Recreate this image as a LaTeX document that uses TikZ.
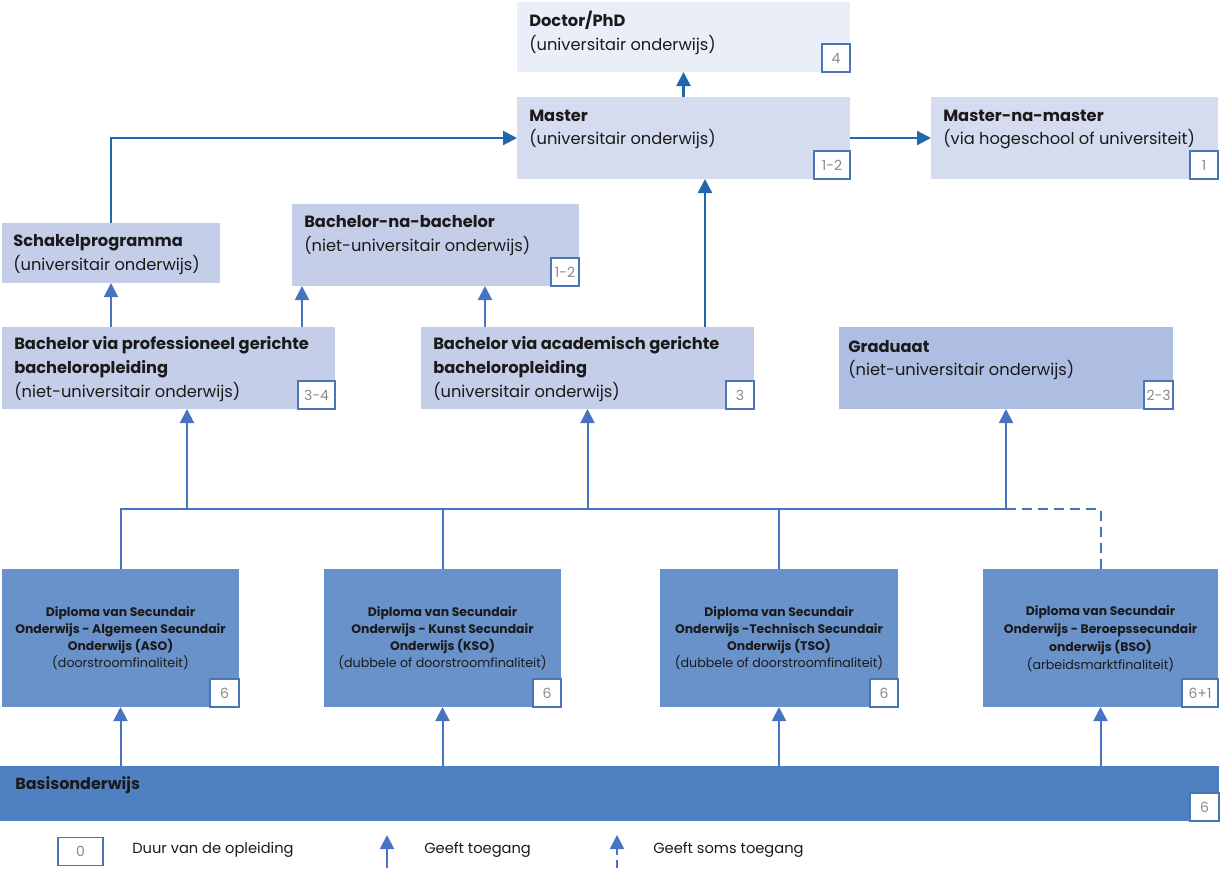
\documentclass[tikz,border=0pt]{standalone}
\usepackage{fontspec}
\setmainfont{Poppins}
\usetikzlibrary{arrows.meta}
\definecolor{cDoc}{HTML}{EAEEF8}
\definecolor{cMas}{HTML}{D6DCEF}
\definecolor{cBach}{HTML}{C4CEE9}
\definecolor{cGrad}{HTML}{AEBEE3}
\definecolor{cDipl}{HTML}{6991CA}
\definecolor{cBasis}{HTML}{4F80C1}
\definecolor{cBadgeB}{HTML}{4A75B6}
\definecolor{cBadgeT}{HTML}{8A8A8A}
\definecolor{cDark}{HTML}{1F68AD}
\definecolor{cLight}{HTML}{4674C2}
\definecolor{cTxt}{HTML}{1A1A1A}
\newcommand\pbox[6]{%
  \node[boxsty, fill=#6, minimum width={(#4-#2)*0.75pt}, minimum height={(#5-#3)*0.75pt}] (#1) at ({(#2+#4)/2},{(#3+#5)/2}) {};}
\newcommand\pbadge[4]{%
  \node[badgesty, minimum width={#4*0.75pt}] (#2) at (#1.south east) {#3};}
\begin{document}
\begin{tikzpicture}[x=0.75pt,y=-0.75pt,
  boxsty/.style={rectangle, inner sep=0pt, outer sep=0pt, draw=none},
  badgesty/.style={rectangle, draw=cBadgeB, line width=0.9pt, fill=white, inner sep=0pt, outer sep=0pt,
    minimum height=21pt, text=cBadgeT, font=\fontsize{10.5}{12}\selectfont, anchor=south east},
  ttl/.style={anchor=base west, inner sep=0pt, text=cTxt, font=\fontsize{12.2}{15}\selectfont\bfseries},
  sub/.style={anchor=base west, inner sep=0pt, text=cTxt, font=\fontsize{12.2}{15}\selectfont},
  dttl/.style={anchor=base, inner sep=0pt, text=cTxt, font=\fontsize{9.3}{11}\selectfont\bfseries},
  dsub/.style={anchor=base, inner sep=0pt, text=cTxt, font=\fontsize{9.5}{11}\selectfont},
  legtxt/.style={anchor=base west, inner sep=0pt, text=cTxt, font=\fontsize{11}{13}\selectfont},
  conn/.style={draw=cLight, line width=1.5pt},
  connD/.style={draw=cDark, line width=1.7pt},
  tip/.style={-{Triangle[length=10.5pt,width=10.5pt]}},
  dashsty/.style={dash pattern=on 7.5pt off 4.5pt}
]
\useasboundingbox (0,0) rectangle (1221,869);

% boxes
\pbox{doc}{517}{2}{850}{72}{cDoc}
\pbox{mas}{517}{97}{850}{179}{cMas}
\pbox{mnm}{931}{97}{1218}{179}{cMas}
\pbox{sch}{2}{223}{220}{283}{cBach}
\pbox{bnb}{292}{204}{579}{286}{cBach}
\pbox{prof}{2}{327}{335}{409}{cBach}
\pbox{acad}{421}{327}{754}{409}{cBach}
\pbox{grad}{839}{327}{1173}{409}{cGrad}
\pbox{aso}{2}{569}{239}{707}{cDipl}
\pbox{kso}{324}{569}{561}{707}{cDipl}
\pbox{tso}{660}{569}{898}{707}{cDipl}
\pbox{bso}{983}{569}{1218}{707}{cDipl}
\pbox{basis}{0}{766}{1219}{821}{cBasis}

% badges
\pbadge{doc}{docb}{4}{28}
\pbadge{mas}{masb}{1-2}{36}
\pbadge{mnm}{mnmb}{1}{28}
\pbadge{bnb}{bnbb}{1-2}{28}
\pbadge{prof}{profb}{3-4}{37}
\pbadge{acad}{acadb}{3}{28}
\pbadge{grad}{gradb}{2-3}{29}
\pbadge{aso}{asob}{6}{29}
\pbadge{kso}{ksob}{6}{28}
\pbadge{tso}{tsob}{6}{28}
\pbadge{bso}{bsob}{6+1}{36}
\pbadge{basis}{basisb}{6}{29}

% texts
\node[ttl] (doc-t) at (529,26) {Doctor/PhD};
\node[sub] (doc-s) at (529,50) {(universitair onderwijs)};
\node[ttl] (mas-t) at (529,121) {Master};
\node[sub] (mas-s) at (529,144) {(universitair onderwijs)};
\node[ttl] (mnm-t) at (943,121) {Master-na-master};
\node[sub] (mnm-s) at (943,144) {(via hogeschool of universiteit)};
\node[ttl] (sch-t) at (13,246) {Schakelprogramma};
\node[sub] (sch-s) at (13,270) {(universitair onderwijs)};
\node[ttl] (bnb-t) at (304,227) {Bachelor-na-bachelor};
\node[sub] (bnb-s) at (304,251) {(niet-universitair onderwijs)};
\node[ttl] (prof-t1) at (14,349) {Bachelor via professioneel gerichte};
\node[ttl] (prof-t2) at (14,373) {bacheloropleiding};
\node[sub] (prof-s) at (14,397) {(niet-universitair onderwijs)};
\node[ttl] (acad-t1) at (433,349) {Bachelor via academisch gerichte};
\node[ttl] (acad-t2) at (433,373) {bacheloropleiding};
\node[sub] (acad-s) at (433,397) {(universitair onderwijs)};
\node[ttl] (grad-t) at (848,352) {Graduaat};
\node[sub] (grad-s) at (848,375) {(niet-universitair onderwijs)};

\node[dttl] (aso-t1) at (120.5,616.5) {Diploma van Secundair};
\node[dttl] (aso-t2) at (120.5,633.5) {Onderwijs - Algemeen Secundair};
\node[dttl] (aso-t3) at (120.5,650.5) {Onderwijs (ASO)};
\node[dsub] (aso-s) at (120.5,667.5) {(doorstroomfinaliteit)};
\node[dttl] (kso-t1) at (442.5,616.5) {Diploma van Secundair};
\node[dttl] (kso-t2) at (442.5,633.5) {Onderwijs - Kunst Secundair};
\node[dttl] (kso-t3) at (442.5,650.5) {Onderwijs (KSO)};
\node[dsub] (kso-s) at (442.5,667.5) {(dubbele of doorstroomfinaliteit)};
\node[dttl] (tso-t1) at (779,616.5) {Diploma van Secundair};
\node[dttl] (tso-t2) at (779,633.5) {Onderwijs -Technisch Secundair};
\node[dttl] (tso-t3) at (779,650.5) {Onderwijs (TSO)};
\node[dsub] (tso-s) at (779,667.5) {(dubbele of doorstroomfinaliteit)};
\node[dttl] (bso-t1) at (1100.5,615) {Diploma van Secundair};
\node[dttl] (bso-t2) at (1100.5,633) {Onderwijs - Beroepssecundair};
\node[dttl] (bso-t3) at (1100.5,651) {onderwijs (BSO)};
\node[dsub] (bso-s) at (1100.5,669) {(arbeidsmarktfinaliteit)};

\node[ttl, font=\fontsize{12}{14}\selectfont\bfseries] (basis-t) at (15,789) {Basisonderwijs};

% upper connectors (dark)
\draw[connD, tip] (mas.north) -- (doc.south);
\draw[connD, tip] (mas.east) -- (mnm.west);
\draw[connD, tip] (sch.north) |- (mas.west);
\draw[connD, tip] (acad.north -| 705,0) -- (mas.south -| 705,0);

% bachelor connectors
\draw[conn, tip] (prof.north -| sch.south) -- (sch.south);
\draw[conn, tip] (prof.north -| 302,0) -- (bnb.south -| 302,0);
\draw[conn, tip] (acad.north -| 485,0) -- (bnb.south -| 485,0);

% bus
\coordinate (busR) at (grad.south |- 0,509);
\coordinate (busP) at (prof.south -| 187,0);
\draw[conn] (aso.north) |- (busR);
\draw[conn] (kso.north) -- (kso.north |- busR);
\draw[conn] (tso.north) -- (tso.north |- busR);
\draw[conn, dashsty] (busR) -| (bso.north);
\draw[conn, tip] (busP |- busR) -- (busP);
\draw[conn, tip] (acad.south |- busR) -- (acad.south);
\draw[conn, tip] (busR) -- (grad.south);

% basis arrows
\draw[conn, tip] (basis.north -| aso.south) -- (aso.south);
\draw[conn, tip] (basis.north -| kso.south) -- (kso.south);
\draw[conn, tip] (basis.north -| tso.south) -- (tso.south);
\draw[conn, tip] (basis.north -| bso.south) -- (bso.south);

% legend
\node[badgesty, anchor=center, minimum width=33.75pt] (leg0) at (80.5,851.5) {0};
\node[legtxt] (leg0-t) at (132,853) {Duur van de opleiding};
\coordinate (la1) at (387,868);
\coordinate (la2) at (387,835);
\draw[conn, tip] (la1) -- (la2);
\node[legtxt] (la-t) at (424,853) {Geeft toegang};
\coordinate (lb1) at (617,868);
\coordinate (lb2) at (617,835);
\draw[conn, tip, dash pattern=on 6pt off 4pt] (lb1) -- (lb2);
\node[legtxt] (lb-t) at (653,853) {Geeft soms toegang};
\end{tikzpicture}
\end{document}
